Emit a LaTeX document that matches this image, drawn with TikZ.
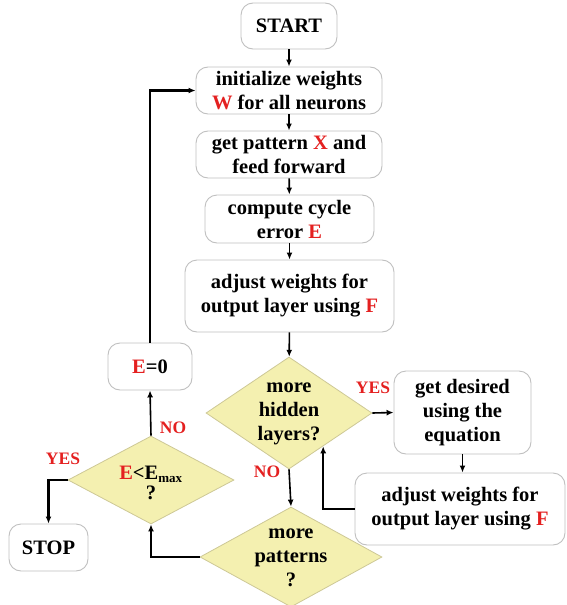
\documentclass[tikz,border=0pt]{standalone}
\usepackage{fontspec}
\setmainfont{Liberation Serif}
\usetikzlibrary{shapes.geometric,arrows.meta,calc}
\definecolor{boxgray}{RGB}{192,192,192}
\definecolor{dyellow}{RGB}{244,240,176}
\definecolor{dborder}{RGB}{205,200,150}
\definecolor{hlred}{RGB}{228,32,32}
\newcommand{\rd}[1]{\textcolor{hlred}{#1}}
\tikzset{
  box/.style={draw=boxgray, line width=0.9pt, rounded corners=12pt, fill=white,
    align=center, inner sep=0pt, font=\fontsize{20.5}{24}\selectfont\bfseries},
  decision/.style={diamond, draw=dborder, line width=0.8pt, fill=dyellow, inner sep=0pt},
  dtext/.style={align=center, inner sep=0pt, font=\fontsize{20.5}{24}\selectfont\bfseries},
  flow/.style={-{Latex[length=7pt,width=6pt]}, line width=1.6pt},
  loop/.style={flow, line width=2.2pt},
  answer/.style={text=hlred, inner sep=0pt, font=\fontsize{17.5}{20}\selectfont\bfseries},
}
\begin{document}
\begin{tikzpicture}[x=1pt, y=-1pt]
  \useasboundingbox (0,0) rectangle (566,605);
  % main column
  \node[box, minimum width=96pt, minimum height=46pt] (start) at (289,26) {START};
  \node[box, minimum width=186pt, minimum height=47pt] (init) at (289,90.5) {initialize weights\\\rd{W} for all neurons};
  \node[box, minimum width=186pt, minimum height=47pt] (pattern) at (289,154.5) {get pattern \rd{X} and\\feed forward};
  \node[box, minimum width=169pt, minimum height=48pt] (cycle) at (289.5,219) {compute cycle\\error \rd{E}};
  \node[box, minimum width=209pt, minimum height=72pt] (adjust) at (289.5,296) {adjust weights for\\output layer using \rd{F}};
  \node[decision, minimum width=166pt, minimum height=112pt] (hidden) at (289,413) {};
  \node[dtext] (hiddentxt) at (289,414) {more\\hidden\\layers?};
  \node[decision, minimum width=182pt, minimum height=100pt] (patterns) at (291,557) {};
  \node[dtext] (patternstxt) at (291,558) {more\\patterns\\?};
  % right branch
  \node[box, minimum width=137pt, minimum height=83pt] (desired) at (462.5,412.5) {get desired\\using the\\equation};
  \node[box, minimum width=210pt, minimum height=72pt] (adjusttwo) at (460,509) {adjust weights for\\output layer using \rd{F}};
  % left branch
  \node[decision, minimum width=166pt, minimum height=88pt] (emax) at (151,480) {};
  \node[dtext, font=\fontsize{20.5}{20}\selectfont\bfseries] (emaxtxt) at (151,483) {\rd{E}<E\textsubscript{\fontsize{13}{13}\selectfont max}\\?};
  \node[box, minimum width=84pt, minimum height=47pt] (ezero) at (150,366.5) {\rd{E}=0};
  \node[box, minimum width=79pt, minimum height=47pt] (stop) at (48.5,547.5) {STOP};
  \coordinate (back) at ($(hidden.south)!0.41!(hidden.east)$);
  % connectors
  \draw[flow] (start) -- (init);
  \draw[flow] (init) -- (pattern);
  \draw[flow] (pattern) -- (cycle);
  \draw[flow] (cycle) -- (adjust);
  \draw[flow] (adjust) -- (hidden);
  \draw[flow] (hidden.east) -- (desired.west);
  \draw[flow] (desired.south) -- (desired.south |- adjusttwo.north);
  \draw[loop] (adjusttwo.west) -| (back);
  \draw[flow] (hidden.south) -- (patterns.north);
  \draw[loop] (patterns.west) -| (emax.south);
  \draw[flow] (emax.north) -- (ezero.south);
  \draw[loop] (ezero.north) |- (init.west);
  \draw[loop] (emax.west) -| (stop.north);
  % answers
  \node[answer] (yeshidden) at (373,388) {YES};
  \node[answer] (nohidden) at (267,472) {NO};
  \node[answer] (noemax) at (173,428) {NO};
  \node[answer] (yesemax) at (63,459) {YES};
\end{tikzpicture}
\end{document}
